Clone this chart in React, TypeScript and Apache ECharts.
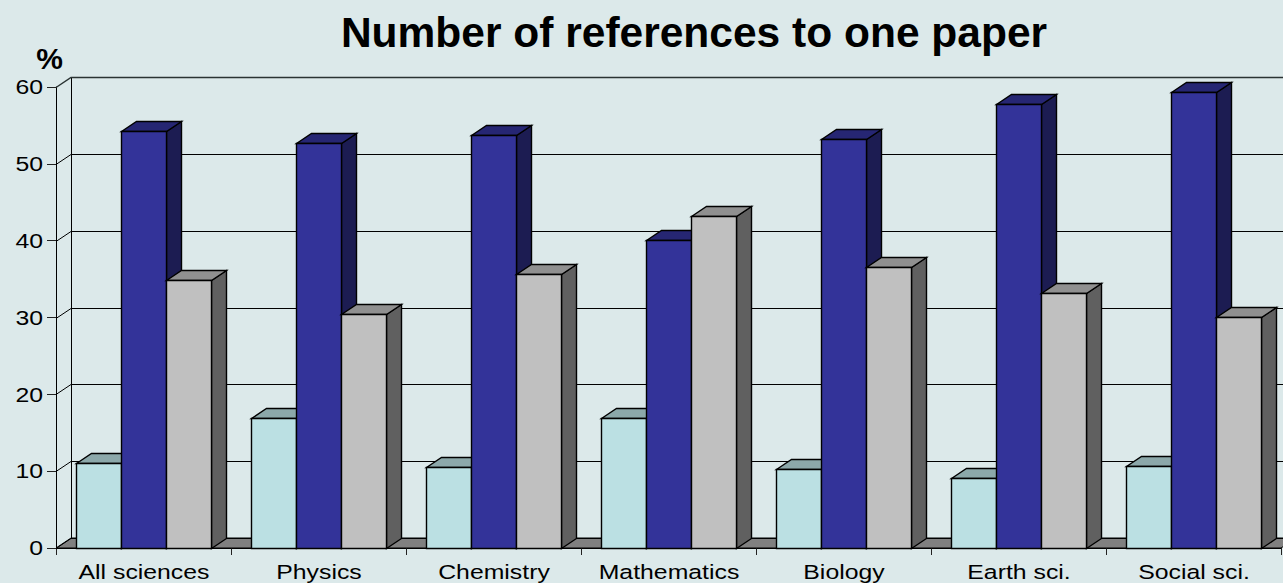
import React, { useEffect, useRef } from "react";
import * as echarts from "echarts";

const categories = ["All sciences", "Physics", "Chemistry", "Mathematics", "Biology", "Earth sci.", "Social sci."];
const yTicks = [0, 10, 20, 30, 40, 50, 60];
const lightValues = [11.1, 16.9, 10.5, 16.9, 10.3, 9.1, 10.7];
const blueValues = [54.3, 52.7, 53.8, 40.1, 53.2, 57.8, 59.4];
const greyValues = [34.9, 30.5, 35.7, 43.2, 36.6, 33.2, 30.1];

const DX = 15;
const DY = -10;
const BAR_RATIO = 45 / 175;
const BG = "#DCE9EA";
const FONT = "Liberation Sans, Arial, sans-serif";
const STRETCH = 1.21;
const LABEL_FONT = `20.5px ${FONT}`;

function barSeries(values: number[], slot: number, front: string, top: string, side: string, z: number) {
  return {
    type: "custom",
    z,
    silent: true,
    clip: false,
    data: values.map((v, i) => [i, v]),
    encode: { x: 0, y: 1 },
    renderItem: (_p: any, api: any) => {
      const i = api.value(0);
      const p = api.coord([i, api.value(1)]);
      const b = api.coord([i, 0]);
      const w = api.size([1, 0])[0] * BAR_RATIO;
      const x0 = Math.round(p[0] + (slot - 1.5) * w) + 0.5;
      const x1 = x0 + Math.round(w);
      const yt = Math.round(p[1]) + 0.5;
      const yb = Math.round(b[1]) + 0.5;
      const line = { stroke: "#000", lineWidth: 1.4 };
      return {
        type: "group",
        children: [
          { type: "polygon", shape: { points: [[x1, yt], [x1 + DX, yt + DY], [x1 + DX, yb + DY], [x1, yb]] }, style: { fill: side, ...line } },
          { type: "polygon", shape: { points: [[x0, yt], [x0 + DX, yt + DY], [x1 + DX, yt + DY], [x1, yt]] }, style: { fill: top, ...line } },
          { type: "rect", shape: { x: x0, y: yt, width: x1 - x0, height: yb - yt }, style: { fill: front, ...line } },
        ],
      };
    },
  };
}

export default function App() {
  const ref = useRef<HTMLDivElement>(null);
  useEffect(() => {
    const chart = echarts.init(ref.current!, undefined, { renderer: "svg" });
    chart.setOption({
      animation: false,
      backgroundColor: BG,
      title: {
        text: "Number of references to one paper",
        left: 689,
        top: 6,
        textAlign: "center",
        textStyle: { fontFamily: FONT, fontWeight: "bold", fontSize: 42.5, color: "#000" },
      },
      grid: { left: 56, top: 87, right: 2, bottom: 35 },
      xAxis: {
        type: "category",
        data: categories,
        axisLine: { lineStyle: { color: "#000", width: 1 } },
        axisTick: { show: true, length: 7, lineStyle: { color: "#222" } },
        axisLabel: { show: false },
        splitLine: { show: false },
      },
      yAxis: {
        type: "value",
        min: 0,
        max: 60,
        interval: 10,
        axisLine: { show: true, lineStyle: { color: "#000", width: 1 } },
        axisTick: { show: true, length: 9, lineStyle: { color: "#222" } },
        axisLabel: { show: false },
        splitLine: { show: false },
      },
      series: [
        {
          type: "custom",
          z: 1,
          silent: true,
          clip: false,
          data: [0],
          renderItem: (p: any, api: any) => {
            const c = p.coordSys;
            const yb = api.coord([0, 0])[1];
            const yTop = api.coord([0, 60])[1];
            const l = c.x;
            const r = c.x + c.width;
            return {
              type: "group",
              children: [
                { type: "polygon", shape: { points: [[l, yb], [l + DX, yb + DY], [r + DX, yb + DY], [r, yb]] }, style: { fill: "#808080", stroke: "#000", lineWidth: 1 } },
                { type: "line", shape: { x1: l + DX + 0.5, y1: yTop + DY, x2: l + DX + 0.5, y2: yb + DY }, style: { stroke: "#000", lineWidth: 1 } },
              ],
            };
          },
        },
        {
          type: "custom",
          z: 1,
          silent: true,
          clip: false,
          data: yTicks.map((t) => [0, t]),
          encode: { y: 1 },
          renderItem: (p: any, api: any) => {
            const v = api.value(1);
            const y = Math.round(api.coord([0, v])[1]) + 0.5;
            const c = p.coordSys;
            const isTop = v === yTicks[yTicks.length - 1];
            return {
              type: "polyline",
              shape: { points: [[c.x, y], [c.x + DX, y + DY], [c.x + c.width + DX, y + DY]] },
              style: { fill: "none", stroke: isTop ? "#2a3333" : "#000", lineWidth: isTop ? 1.5 : 1 },
            };
          },
        },
        barSeries(lightValues, 0, "#BBE0E3", "#8CA8AA", "#5E7072", 3),
        barSeries(blueValues, 1, "#333399", "#262673", "#1C1C52", 4),
        barSeries(greyValues, 2, "#C0C0C0", "#909090", "#606060", 5),
        {
          type: "custom",
          z: 6,
          silent: true,
          clip: false,
          data: categories.map((c, i) => [i, 0, c]),
          encode: { x: 0, y: 1 },
          renderItem: (_p: any, api: any) => {
            const i = api.value(0);
            const pos = api.coord([i, 0]);
            return {
              type: "text",
              x: pos[0] + 0.5,
              y: pos[1] + 24,
              scaleX: STRETCH,
              style: { text: categories[i], font: LABEL_FONT, fill: "#000", align: "center", verticalAlign: "middle" },
            };
          },
        },
        {
          type: "custom",
          z: 6,
          silent: true,
          clip: false,
          data: yTicks.map((t) => [0, t]),
          encode: { y: 1 },
          renderItem: (p: any, api: any) => {
            const v = api.value(1);
            const y = api.coord([0, v])[1];
            return {
              type: "text",
              x: p.coordSys.x - 13,
              y: y,
              scaleX: STRETCH,
              style: { text: String(v), font: LABEL_FONT, fill: "#000", align: "right", verticalAlign: "middle" },
            };
          },
        },
      ],
      graphic: [
        { type: "text", x: 49.5, y: 58, style: { text: "%", font: `bold 30px ${FONT}`, fill: "#000", align: "center", verticalAlign: "middle" } },
      ],
    });
    return () => chart.dispose();
  }, []);
  return <div ref={ref} style={{ position: "fixed", left: 0, top: 0, width: 1283, height: 583 }} />;
}
